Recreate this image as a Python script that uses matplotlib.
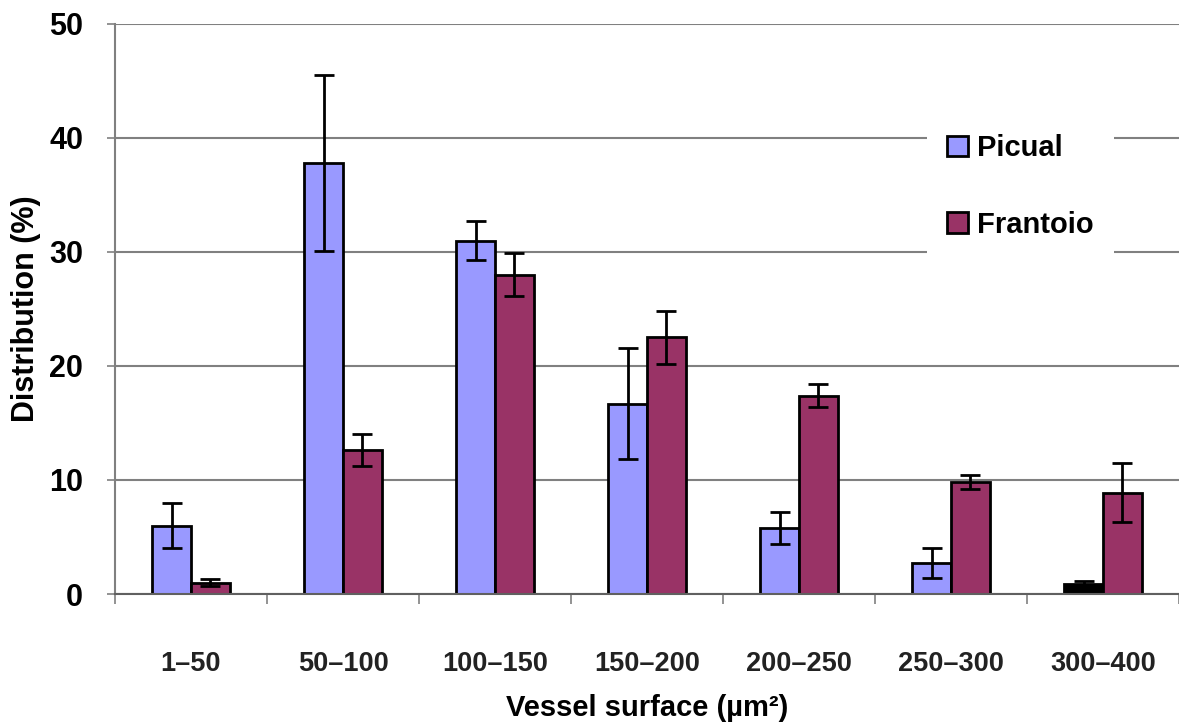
# -*- coding: utf-8 -*-

"""
Vessel surface distribution for Picual and Frantoio, grouped bars with error bars.
"""

#imports
import numpy as np
import matplotlib
matplotlib.use('Agg')
import matplotlib.pyplot as plt

#data
classes = ['1\u201350', '50\u2013100', '100\u2013150', '150\u2013200', '200\u2013250', '250\u2013300', '300\u2013400']
picual = [6.0, 37.8, 31.0, 16.7, 5.8, 2.7, 0.9]
picual_err = [2.0, 7.7, 1.7, 4.9, 1.4, 1.3, 0.2]
frantoio = [1.0, 12.6, 28.0, 22.5, 17.4, 9.8, 8.9]
frantoio_err = [0.3, 1.4, 1.9, 2.3, 1.0, 0.6, 2.6]
yticks = [0, 10, 20, 30, 40, 50]

#colours
c_pic = '#9999FF'
c_fra = '#993366'
pic_colors = [c_pic] * 6 + ['black']

plt.rcParams['font.family'] = ['Liberation Sans', 'DejaVu Sans']
plt.rcParams['font.weight'] = 'bold'

fig = plt.figure(figsize=(11.79, 7.24), dpi=100)
ax = fig.add_axes([115/1179, 1-594/724, 1 - 115/1179, (594-24)/724])

x = np.arange(len(classes))
w = 0.256
ekw = dict(ecolor='black', elinewidth=2, capsize=7, capthick=2)

b1 = ax.bar(x - w/2, picual, w, color=pic_colors, edgecolor='black', linewidth=2,
            yerr=picual_err, error_kw=ekw, label='Picual', zorder=3)
b2 = ax.bar(x + w/2, frantoio, w, color=c_fra, edgecolor='black', linewidth=2,
            yerr=frantoio_err, error_kw=ekw, label='Frantoio', zorder=3)

#axes
ax.set_xlim(-0.5, len(classes) - 0.5)
ax.set_ylim(0, 50)
ax.set_yticks(yticks)
ax.set_yticklabels([str(t) for t in yticks], fontsize=22, fontweight='bold')
ax.tick_params(axis='y', length=6, width=1.2, color='#808080', pad=17)

#group separators as x ticks, labels as minor ticks
ax.set_xticks(np.arange(len(classes) + 1) - 0.5)
ax.set_xticklabels([])
ax.tick_params(axis='x', which='major', length=7, width=1.2, color='#808080', direction='out')
ax.set_xticks(x, minor=True)
ax.set_xticklabels(classes, minor=True, fontsize=19.5, fontweight='bold', color='#222222')
ax.tick_params(axis='x', which='minor', length=0, pad=41)

ax.yaxis.grid(True, color='#808080', linewidth=1.5, zorder=0)
ax.set_axisbelow(True)
for s in ['top', 'right']:
    ax.spines[s].set_visible(False)
ax.spines['left'].set_color('#808080')
ax.spines['left'].set_linewidth(1.5)
ax.spines['bottom'].set_color('#606060')
ax.spines['bottom'].set_linewidth(1.5)
ax.spines['bottom'].set_zorder(4)

ax.set_xlabel('Vessel surface (\u00b5m\u00b2)', fontsize=21, fontweight='bold', labelpad=12)
ax.set_ylabel('Distribution (%)', fontsize=22, fontweight='bold', labelpad=6)

#legend
leg = fig.legend(handles=[b1, b2], loc='upper left', bbox_to_anchor=(927/1179, 1-114/724),
                 fontsize=21, frameon=True, facecolor='white', edgecolor='none', framealpha=1,
                 handlelength=0.7, handleheight=0.7, handletextpad=0.3, labelspacing=1.65,
                 borderpad=0.7, borderaxespad=0, fancybox=False)
leg.legend_handles[0].set_facecolor(c_pic)
for t in leg.get_texts():
    t.set_fontweight('bold')

fig.savefig('out.png', dpi=100)
